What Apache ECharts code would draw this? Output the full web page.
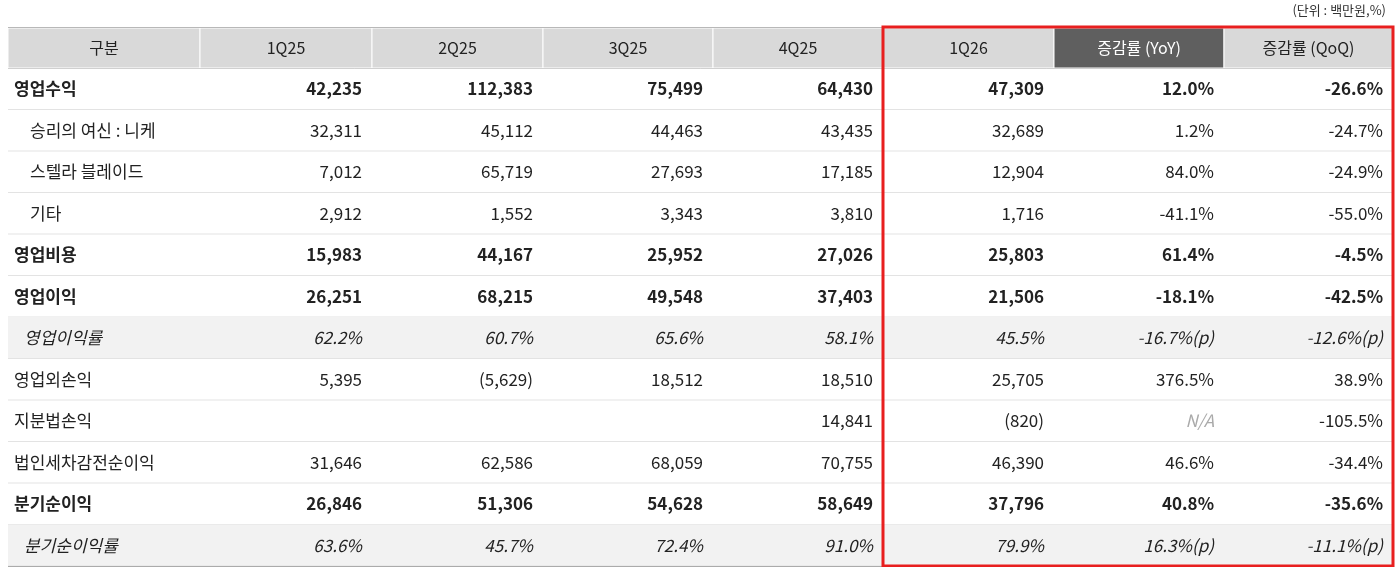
<!DOCTYPE html>
<html><head><meta charset="utf-8">
<script src="https://cdn.jsdelivr.net/npm/echarts@6/dist/echarts.min.js"></script>
<style>html,body{margin:0;padding:0;background:#fff}#c{width:1400px;height:567px}</style>
</head><body><div id="c"></div>
<script>
const headers = ['구분','1Q25','2Q25','3Q25','4Q25','1Q26','증감률 (YoY)','증감률 (QoQ)'];
const rowLabels = ['영업수익','승리의 여신 : 니케','스텔라 블레이드','기타','영업비용','영업이익','영업이익률','영업외손익','지분법손익','법인세차감전순이익','분기순이익','분기순이익률'];
const rowStyle = ['bold','sub','sub','sub','bold','bold','italic','normal','normal','normal','bold','italic'];
const q1_25 = ['42,235','32,311','7,012','2,912','15,983','26,251','62.2%','5,395','','31,646','26,846','63.6%'];
const q2_25 = ['112,383','45,112','65,719','1,552','44,167','68,215','60.7%','(5,629)','','62,586','51,306','45.7%'];
const q3_25 = ['75,499','44,463','27,693','3,343','25,952','49,548','65.6%','18,512','','68,059','54,628','72.4%'];
const q4_25 = ['64,430','43,435','17,185','3,810','27,026','37,403','58.1%','18,510','14,841','70,755','58,649','91.0%'];
const q1_26 = ['47,309','32,689','12,904','1,716','25,803','21,506','45.5%','25,705','(820)','46,390','37,796','79.9%'];
const yoy = ['12.0%','1.2%','84.0%','-41.1%','61.4%','-18.1%','-16.7%(p)','376.5%','N/A','46.6%','40.8%','16.3%(p)'];
const qoq = ['-26.6%','-24.7%','-24.9%','-55.0%','-4.5%','-42.5%','-12.6%(p)','38.9%','-105.5%','-34.4%','-35.6%','-11.1%(p)'];
const unitText = '(단위 : 백만원,%)';

const cols = [rowLabels,q1_25,q2_25,q3_25,q4_25,q1_26,yoy,qoq];
const edges = [8,200,372,543,713,883,1054,1224,1393];
const headTop = 28, headH = 40, rowH = 41.5;
const F = '"Noto Sans CJK KR","Noto Sans",sans-serif';

const data = [];
headers.forEach((h,c)=>data.push([c,-1,h]));
rowLabels.forEach((_,r)=>cols.forEach((col,c)=>data.push([c,r,col[r]])));

function renderItem(params, api){
  const c = api.value(0), r = api.value(1), txt = data[params.dataIndex][2];
  const y0 = r<0 ? headTop : headTop+headH+r*rowH;
  const h = r<0 ? headH : rowH;
  const p0 = api.coord([edges[c], y0]), p1 = api.coord([edges[c+1], y0+h]);
  const w = p1[0]-p0[0], hh = p1[1]-p0[1];
  const children = [];
  if (r<0){
    children.push({type:'rect',shape:{x:p0[0],y:p0[1],width:w,height:hh},style:{fill:c===6?'#5f5f5f':'#d9d9d9',stroke:'#fff',lineWidth:1}});
    children.push({type:'text',style:{x:p0[0]+w/2,y:p0[1]+hh/2,text:txt,align:'center',verticalAlign:'middle',font:'16px '+F,fill:c===6?'#fff':'#222'}});
  } else {
    const st = rowStyle[r];
    if (st==='italic') children.push({type:'rect',shape:{x:p0[0],y:p0[1],width:w,height:hh},style:{fill:'#f2f2f2'}});
    children.push({type:'line',shape:{x1:p0[0],y1:p1[1],x2:p1[0],y2:p1[1]},style:{stroke:'#e3e3e3',lineWidth:1}});
    const weight = st==='bold'?'bold ':'';
    const ital = st==='italic'||txt==='N/A'?'italic ':'';
    let x, align;
    if (c===0){ x = p0[0] + (st==='sub'?22:st==='italic'?16:6); align='left'; }
    else { x = p1[0]-10; align='right'; }
    children.push({type:'text',style:{x:x,y:p0[1]+hh/2,text:txt,align:align,verticalAlign:'middle',
      font:ital+weight+'17px '+F,fill:txt==='N/A'?'#aaa':'#222'}});
  }
  return {type:'group',children};
}

const chart = echarts.init(document.getElementById('c'));
const bottom = headTop+headH+rowLabels.length*rowH;
chart.setOption({
  animation:false,
  grid:{left:0,right:0,top:0,bottom:0},
  xAxis:{type:'value',min:0,max:1400,show:false},
  yAxis:{type:'value',min:0,max:567,inverse:true,show:false},
  series:[{type:'custom',renderItem,data:data.map(d=>[d[0],d[1]]),silent:true}],
  graphic:[
    {type:'text',right:14,top:4,style:{text:unitText,font:'13px '+F,fill:'#333'}},
    {type:'line',shape:{x1:8,y1:headTop,x2:1393,y2:headTop},style:{stroke:'#444',lineWidth:1.5}},
    {type:'line',shape:{x1:8,y1:headTop+headH,x2:1393,y2:headTop+headH},style:{stroke:'#444',lineWidth:1}},
    {type:'line',shape:{x1:8,y1:bottom,x2:1393,y2:bottom},style:{stroke:'#444',lineWidth:1.5}},
    {type:'rect',shape:{x:883,y:headTop-1,width:1393-883,height:bottom-headTop+1},style:{fill:'none',stroke:'#e81f1f',lineWidth:3},z:100}
  ]
});
</script></body></html>
